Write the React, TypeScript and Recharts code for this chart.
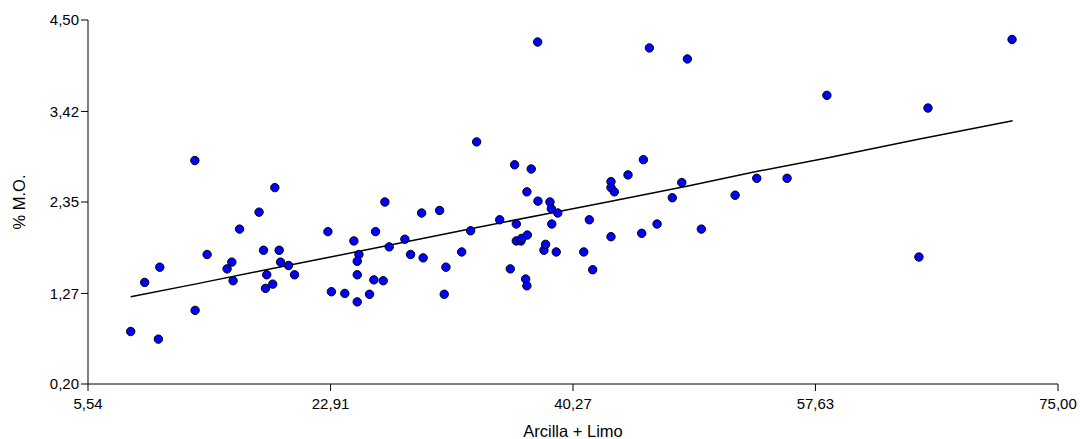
import { Label, Scatter, ScatterChart, XAxis, YAxis } from "recharts";

// Arcilla + Limo (%) for each sample
const arcillaLimo = [
  8.6, 9.6, 10.58, 10.68, 13.19, 13.21, 14.07, 15.5, 15.84, 15.93,
  16.39, 17.79, 18.11, 18.25, 18.34, 18.77, 18.92, 19.23, 19.33, 19.9,
  20.33, 22.72, 22.97, 23.93, 24.58, 24.94, 24.82, 24.82, 24.82, 25.7,
  26.01, 26.13, 26.68, 26.8, 27.11, 28.23, 28.64, 29.43, 29.54, 30.72,
  31.05, 31.17, 32.3, 32.94, 33.37, 35.02, 35.78, 36.09, 36.21, 36.21,
  36.54, 36.6, 36.88, 36.97, 36.97, 37.0, 37.28, 37.74, 37.76, 38.19,
  38.31, 38.62, 38.72, 38.75, 39.07, 39.18, 41.04, 41.44, 41.68, 42.99,
  42.99, 42.99, 43.23, 44.21, 45.19, 45.31, 45.74, 46.29, 47.38, 48.06,
  48.46, 49.46, 51.88, 53.43, 55.6, 58.45, 65.04, 65.69, 71.71,
];

// % M.O. for each sample
const materiaOrganica = [
  0.82, 1.4, 0.73, 1.58, 2.84, 1.07, 1.73, 1.56, 1.64, 1.42,
  2.03, 2.23, 1.78, 1.33, 1.49, 1.38, 2.52, 1.78, 1.64, 1.6,
  1.49, 2.0, 1.29, 1.27, 1.89, 1.73, 1.65, 1.49, 1.17, 1.26,
  1.43, 2.0, 1.42, 2.35, 1.82, 1.91, 1.73, 2.22, 1.69, 2.25,
  1.26, 1.58, 1.76, 2.01, 3.06, 2.14, 1.56, 2.79, 2.09, 1.89,
  1.89, 1.92, 1.44, 1.36, 2.47, 1.96, 2.74, 4.24, 2.36, 1.78,
  1.85, 2.35, 2.27, 2.09, 1.76, 2.22, 1.76, 2.14, 1.55, 2.59,
  2.52, 1.94, 2.47, 2.67, 1.98, 2.85, 4.17, 2.09, 2.4, 2.58,
  4.04, 2.03, 2.43, 2.63, 2.63, 3.61, 1.7, 3.46, 4.27,
];

// fitted trend line
const trendX = [8.6, 13.2, 18.3, 22.9, 27.1, 33.4, 38.7, 43.0, 48.5, 53.4, 58.45, 65.0, 71.75];
const trendY = [1.23, 1.38, 1.55, 1.7, 1.84, 2.05, 2.22, 2.36, 2.54, 2.71, 2.87, 3.09, 3.31];

const xTicks = [5.54, 22.91, 40.27, 57.63, 75.0];
const yTicks = [0.2, 1.27, 2.35, 3.42, 4.5];

const points = arcillaLimo.map((x, i) => ({ x, y: materiaOrganica[i] }));
const trend = trendX.map((x, i) => ({ x, y: trendY[i] }));

const font = "'Liberation Sans', Arial, sans-serif";
const fmt = (v: number) => v.toFixed(2).replace(".", ",");

const Dot = (props: any) => {
  const { cx, cy } = props;
  if (cx == null || cy == null) return null;
  return <circle cx={cx} cy={cy} r={4.2} fill="#0000ff" stroke="#000" strokeWidth={1} />;
};

const YTitle = (props: any) => {
  const { viewBox } = props;
  const x = viewBox.x + 1;
  const y = viewBox.y + viewBox.height / 2;
  return (
    <text
      x={x}
      y={y}
      transform={`rotate(-90, ${x}, ${y})`}
      textAnchor="middle"
      dominantBaseline="central"
      fontFamily={font}
      fontSize={16.5}
      fill="#000"
    >
      % M.O.
    </text>
  );
};

const App = () => {
  return (
    <div style={{ position: "absolute", left: 0, top: 0, width: 1080, height: 439, background: "#fff" }}>
      <ScatterChart width={1080} height={439} margin={{ top: 20, right: 22, bottom: 15, left: 18 }}>
        <XAxis
          type="number"
          dataKey="x"
          domain={[5.54, 75]}
          ticks={xTicks}
          tickFormatter={fmt}
          height={40}
          tickSize={7}
          tickMargin={7}
          stroke="#000"
          tick={{ fill: "#000", fontSize: 15, fontFamily: font }}
          allowDataOverflow
        >
          <Label
            value="Arcilla + Limo"
            position="bottom"
            offset={1}
            style={{ fontFamily: font, fontSize: 16.5, fill: "#000" }}
          />
        </XAxis>
        <YAxis
          type="number"
          dataKey="y"
          domain={[0.2, 4.5]}
          ticks={yTicks}
          tickFormatter={fmt}
          width={70}
          tickSize={7}
          tickMargin={2}
          stroke="#000"
          tick={{ fill: "#000", fontSize: 15, fontFamily: font }}
          allowDataOverflow
        >
          <Label content={<YTitle />} />
        </YAxis>
        <Scatter
          data={trend}
          line={{ stroke: "#000", strokeWidth: 1.5 }}
          lineType="joint"
          shape={() => null}
          isAnimationActive={false}
        />
        <Scatter data={points} shape={<Dot />} isAnimationActive={false} />
      </ScatterChart>
    </div>
  );
};

export default App;
